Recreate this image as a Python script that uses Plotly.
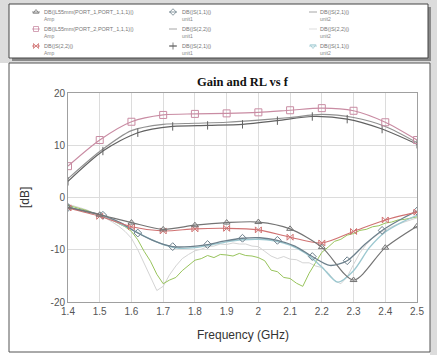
import plotly.graph_objects as go

W, H = 437, 355

# ---------------- data ----------------
f_01 = [1.4, 1.5, 1.6, 1.7, 1.8, 1.9, 2.0, 2.1, 2.2, 2.3, 2.4, 2.5]
gain_port2 = [6.0, 11.0, 14.5, 15.8, 16.0, 16.1, 16.3, 16.7, 17.1, 16.6, 14.4, 11.0]
gain_s21_u2 = [3.6, 8.8, 12.8, 14.0, 14.2, 14.4, 14.8, 15.3, 15.9, 15.3, 13.6, 10.5]
rl_port1 = [-1.9, -3.3, -4.8, -6.1, -5.3, -4.8, -4.7, -6.0, -9.5, -15.8, -9.6, -5.5]
rl_s22_amp = [-2.0, -3.6, -5.6, -6.4, -6.0, -5.9, -6.2, -7.6, -8.7, -6.5, -4.3, -2.8]

f_011 = [1.40, 1.51, 1.62, 1.73, 1.84, 1.95, 2.06, 2.17, 2.28, 2.39, 2.50]
gain_s21_u1 = [3.1, 8.9, 12.4, 13.6, 13.8, 14.0, 14.7, 15.5, 15.0, 13.1, 10.2]

f_0055 = [1.400, 1.455, 1.510, 1.565, 1.620, 1.675, 1.730, 1.785, 1.840, 1.895, 1.950,
          2.005, 2.060, 2.115, 2.170, 2.225, 2.280, 2.335, 2.390, 2.445, 2.500]
rl_s11_u1 = [-1.9, -2.6, -3.4, -4.8, -6.8, -8.4, -9.4, -9.4, -9.0, -8.3, -7.8,
             -7.7, -8.2, -9.3, -11.3, -13.0, -12.1, -9.0, -6.3, -4.3, -2.6]

f_005 = [1.40, 1.45, 1.50, 1.55, 1.60, 1.65, 1.70, 1.75, 1.80, 1.85, 1.90, 1.95,
         2.00, 2.05, 2.10, 2.15, 2.20, 2.25, 2.30, 2.35, 2.40, 2.45, 2.50]
rl_s22_u1 = [-1.8, -2.6, -3.4, -4.6, -6.1, -7.7, -9.0, -9.7, -9.6, -9.1, -8.5, -8.1,
             -8.0, -8.3, -9.1, -10.7, -13.3, -16.2, -14.0, -9.6, -6.6, -4.8, -3.4]

f_002 = [1.40, 1.42, 1.44, 1.46, 1.48, 1.50, 1.52, 1.54, 1.56, 1.58, 1.60, 1.62, 1.64, 1.66,
         1.68, 1.70, 1.72, 1.74, 1.76, 1.78, 1.80, 1.82, 1.84, 1.86, 1.88, 1.90, 1.92, 1.94,
         1.96, 1.98, 2.00, 2.02, 2.04, 2.06, 2.08, 2.10, 2.12, 2.14, 2.16, 2.18, 2.20, 2.22,
         2.24, 2.26, 2.28, 2.30, 2.32, 2.34, 2.36, 2.38, 2.40, 2.42, 2.44, 2.46, 2.48, 2.50]
rl_s11_u2 = [-1.5, -1.8, -2.2, -2.5, -3.0, -3.4, -3.9, -4.3, -5.0, -5.6, -6.5, -8.1, -10.3, -12.2,
             -14.7, -16.5, -15.8, -15.3, -14.0, -13.0, -12.0, -11.7, -11.1, -11.5, -10.9, -11.0, -11.2, -10.7,
             -11.1, -11.2, -11.5, -12.1, -13.9, -14.2, -15.3, -15.5, -16.4, -17.0, -14.5, -12.5, -10.5, -9.5,
             -8.4, -8.0, -7.2, -6.9, -6.3, -6.1, -5.6, -5.4, -4.9, -4.7, -4.3, -4.2, -3.9, -3.7]
rl_s22_u2 = [-1.3, -1.6, -2.0, -2.4, -2.9, -3.4, -4.0, -4.7, -5.5, -6.5, -7.8, -10.0, -12.6, -15.3,
             -17.8, -17.0, -14.8, -13.1, -11.7, -10.9, -10.2, -9.9, -9.4, -9.3, -8.9, -9.0, -8.7, -8.9,
             -8.9, -9.3, -9.4, -10.3, -11.2, -11.7, -11.3, -11.8, -11.9, -12.5, -12.5, -13.1, -13.4, -14.4,
             -15.9, -16.5, -15.2, -12.8, -10.6, -9.0, -7.8, -6.9, -6.2, -5.6, -5.1, -4.7, -4.3, -3.9]

x_ticks = [1.4, 1.5, 1.6, 1.7, 1.8, 1.9, 2.0, 2.1, 2.2, 2.3, 2.4, 2.5]
x_tick_labels = ["1.4", "1.5", "1.6", "1.7", "1.8", "1.9", "2", "2.1", "2.2", "2.3", "2.4", "2.5"]
y_ticks = [-20, -10, 0, 10, 20]
y_tick_labels = ["-20", "-10", "0", "10", "20"]

legend_names = [
    ["DB(|L55mm(PORT_1,PORT_1,1,1)|)", "DB(|L55mm(PORT_2,PORT_1,1,1)|)", "DB(|S(2,2)|)"],
    ["DB(|S(1,1)|)", "DB(|S(2,2)|)", "DB(|S(2,1)|)"],
    ["DB(|S(2,1)|)", "DB(|S(2,2)|)", "DB(|S(1,1)|)"],
]
legend_units = ["Amp", "unit1", "unit2"]

# ---------------- styles ----------------
C_TRI = "#747474"
C_SQ = "#c98ca3"
C_HG = "#d07272"
C_DIA = "#6d808c"
C_S22U1 = "#9cc8d0"
C_PLUS = "#626262"
C_S21U2 = "#909090"
C_S22U2 = "#d4d4d4"
C_GREEN = "#98c45c"

PL, PR, PT, PB = 68, 417, 93, 302  # plot area in pixels

fig = go.Figure()

def line(x, y, color, width=1.2, shape="spline"):
    fig.add_trace(go.Scatter(x=x, y=y, mode="lines", line=dict(color=color, width=width, shape=shape,
                                                               smoothing=0.8), showlegend=False, hoverinfo="skip"))

def markers(x, y, color, symbol, size=6):
    fig.add_trace(go.Scatter(x=x, y=y, mode="markers", showlegend=False, hoverinfo="skip",
                             marker=dict(symbol=symbol, size=size, color=color, line=dict(color=color, width=1))))

# noisy measured curves first (background)
line(f_002, rl_s22_u2, C_S22U2, 1.0, "linear")
line(f_002, rl_s11_u2, C_GREEN, 1.0, "linear")
line(f_005, rl_s22_u1, C_S22U1, 1.4)
# return loss
line(f_0055, rl_s11_u1, C_DIA, 1.3)
markers(f_0055[::2], rl_s11_u1[::2], C_DIA, "diamond-open", 6)
line(f_01, rl_s22_amp, C_HG, 1.1)
markers(f_01, rl_s22_amp, C_HG, "bowtie-open", 6)
line(f_01, rl_port1, C_TRI, 1.2)
markers(f_01, rl_port1, C_TRI, "triangle-up-open", 6)
# gains
line(f_01, gain_s21_u2, C_S21U2, 1.1)
line(f_011, gain_s21_u1, C_PLUS, 1.2)
markers(f_011, gain_s21_u1, C_PLUS, "line-ns-open", 6)
line(f_01, gain_port2, C_SQ, 1.2)
markers(f_01, gain_port2, C_SQ, "square-open", 7)

# ---------------- legend (manual, 3 columns) ----------------
col_icon_x = [36, 173, 313]
col_text_x = [42, 180, 318]
row_y = [12, 29, 46]
icon_specs = [
    [(C_TRI, "triangle-up-open"), (C_SQ, "square-open"), (C_HG, "bowtie-open")],
    [(C_DIA, "diamond-open"), (C_S21U2, None), (C_PLUS, "cross-thin-open")],
    [(C_S21U2, None), (C_S22U2, None), (C_S22U1, "triangle-down-open")],
]
for c in range(3):
    for r in range(3):
        col, sym = icon_specs[c][r]
        cx, cy = col_icon_x[c], row_y[r]
        fig.add_trace(go.Scatter(x=[cx - 4, cx + 4], y=[cy, cy], mode="lines", xaxis="x2", yaxis="y2",
                                 line=dict(color=col, width=0.8), showlegend=False, hoverinfo="skip"))
        if sym:
            fig.add_trace(go.Scatter(x=[cx], y=[cy], mode="markers", xaxis="x2", yaxis="y2",
                                     marker=dict(symbol=sym, size=5, color=col, line=dict(color=col, width=0.8)),
                                     showlegend=False, hoverinfo="skip"))

annotations = []
for c in range(3):
    for r in range(3):
        annotations.append(dict(x=col_text_x[c] / W, y=1 - row_y[r] / H, xref="paper", yref="paper",
                                text=legend_names[c][r], showarrow=False, xanchor="left", yanchor="middle",
                                font=dict(family="Liberation Sans", size=5.5, color="#777")))
        annotations.append(dict(x=col_text_x[c] / W, y=1 - (row_y[r] + 7) / H, xref="paper", yref="paper",
                                text=legend_units[c], showarrow=False, xanchor="left", yanchor="middle",
                                font=dict(family="Liberation Sans", size=5, color="#888")))
annotations.append(dict(x=(PL + PR) / 2 / W, y=1 - 82 / H, xref="paper", yref="paper",
                        text="<b>Gain and RL vs f</b>", showarrow=False, xanchor="center", yanchor="middle",
                        font=dict(family="Liberation Serif", size=12.5, color="#111")))
annotations.append(dict(x=(PL + PR) / 2 / W, y=1 - 335 / H, xref="paper", yref="paper",
                        text="Frequency (GHz)", showarrow=False, xanchor="center", yanchor="middle",
                        font=dict(family="Liberation Sans", size=12, color="#333")))
annotations.append(dict(x=25 / W, y=1 - 198 / H, xref="paper", yref="paper", textangle=-90,
                        text="[dB]", showarrow=False, xanchor="center", yanchor="middle",
                        font=dict(family="Liberation Sans", size=12, color="#333")))

def px_rect(x0, y0, x1, y1, **kw):
    return dict(type="rect", xref="paper", yref="paper", x0=x0 / W, x1=x1 / W,
                y0=1 - y1 / H, y1=1 - y0 / H, layer="below", **kw)

shapes = [
    px_rect(0, 0, W, 63, fillcolor="#dcdcdc", line=dict(width=0)),
    px_rect(430, 0, W, H, fillcolor="#dcdcdc", line=dict(width=0)),
    px_rect(12, 7, 431, 61, fillcolor="#8a8a8a", line=dict(width=0)),
    px_rect(9, 4, 428, 58, fillcolor="white", line=dict(color="#444", width=1)),
    px_rect(9, 63, 430, 352, fillcolor="white", line=dict(color="#555", width=1)),
]

fig.update_layout(
    width=W, height=H, margin=dict(l=0, r=0, t=0, b=0),
    paper_bgcolor="white", plot_bgcolor="rgba(0,0,0,0)",
    showlegend=False,
    annotations=annotations, shapes=shapes,
    xaxis=dict(domain=[PL / W, PR / W], range=[1.4, 2.5], tickvals=x_ticks, ticktext=x_tick_labels,
               showgrid=True, gridcolor="#dcdcdc", gridwidth=1, zeroline=False,
               showline=True, linecolor="#a0a0a0", mirror=True, ticks="", automargin=False,
               tickfont=dict(family="Liberation Sans", size=10, color="#555")),
    yaxis=dict(domain=[1 - PB / H, 1 - PT / H], range=[-20, 20], tickvals=y_ticks, ticktext=y_tick_labels,
               showgrid=True, gridcolor="#dcdcdc", gridwidth=1, zeroline=False,
               showline=True, linecolor="#a0a0a0", mirror=True, ticks="", automargin=False,
               tickfont=dict(family="Liberation Sans", size=10, color="#555")),
    xaxis2=dict(domain=[0, 1], range=[0, W], visible=False, fixedrange=True, anchor="y2"),
    yaxis2=dict(domain=[0, 1], range=[H, 0], visible=False, fixedrange=True, anchor="x2"),
)

fig.write_html("out.html")
